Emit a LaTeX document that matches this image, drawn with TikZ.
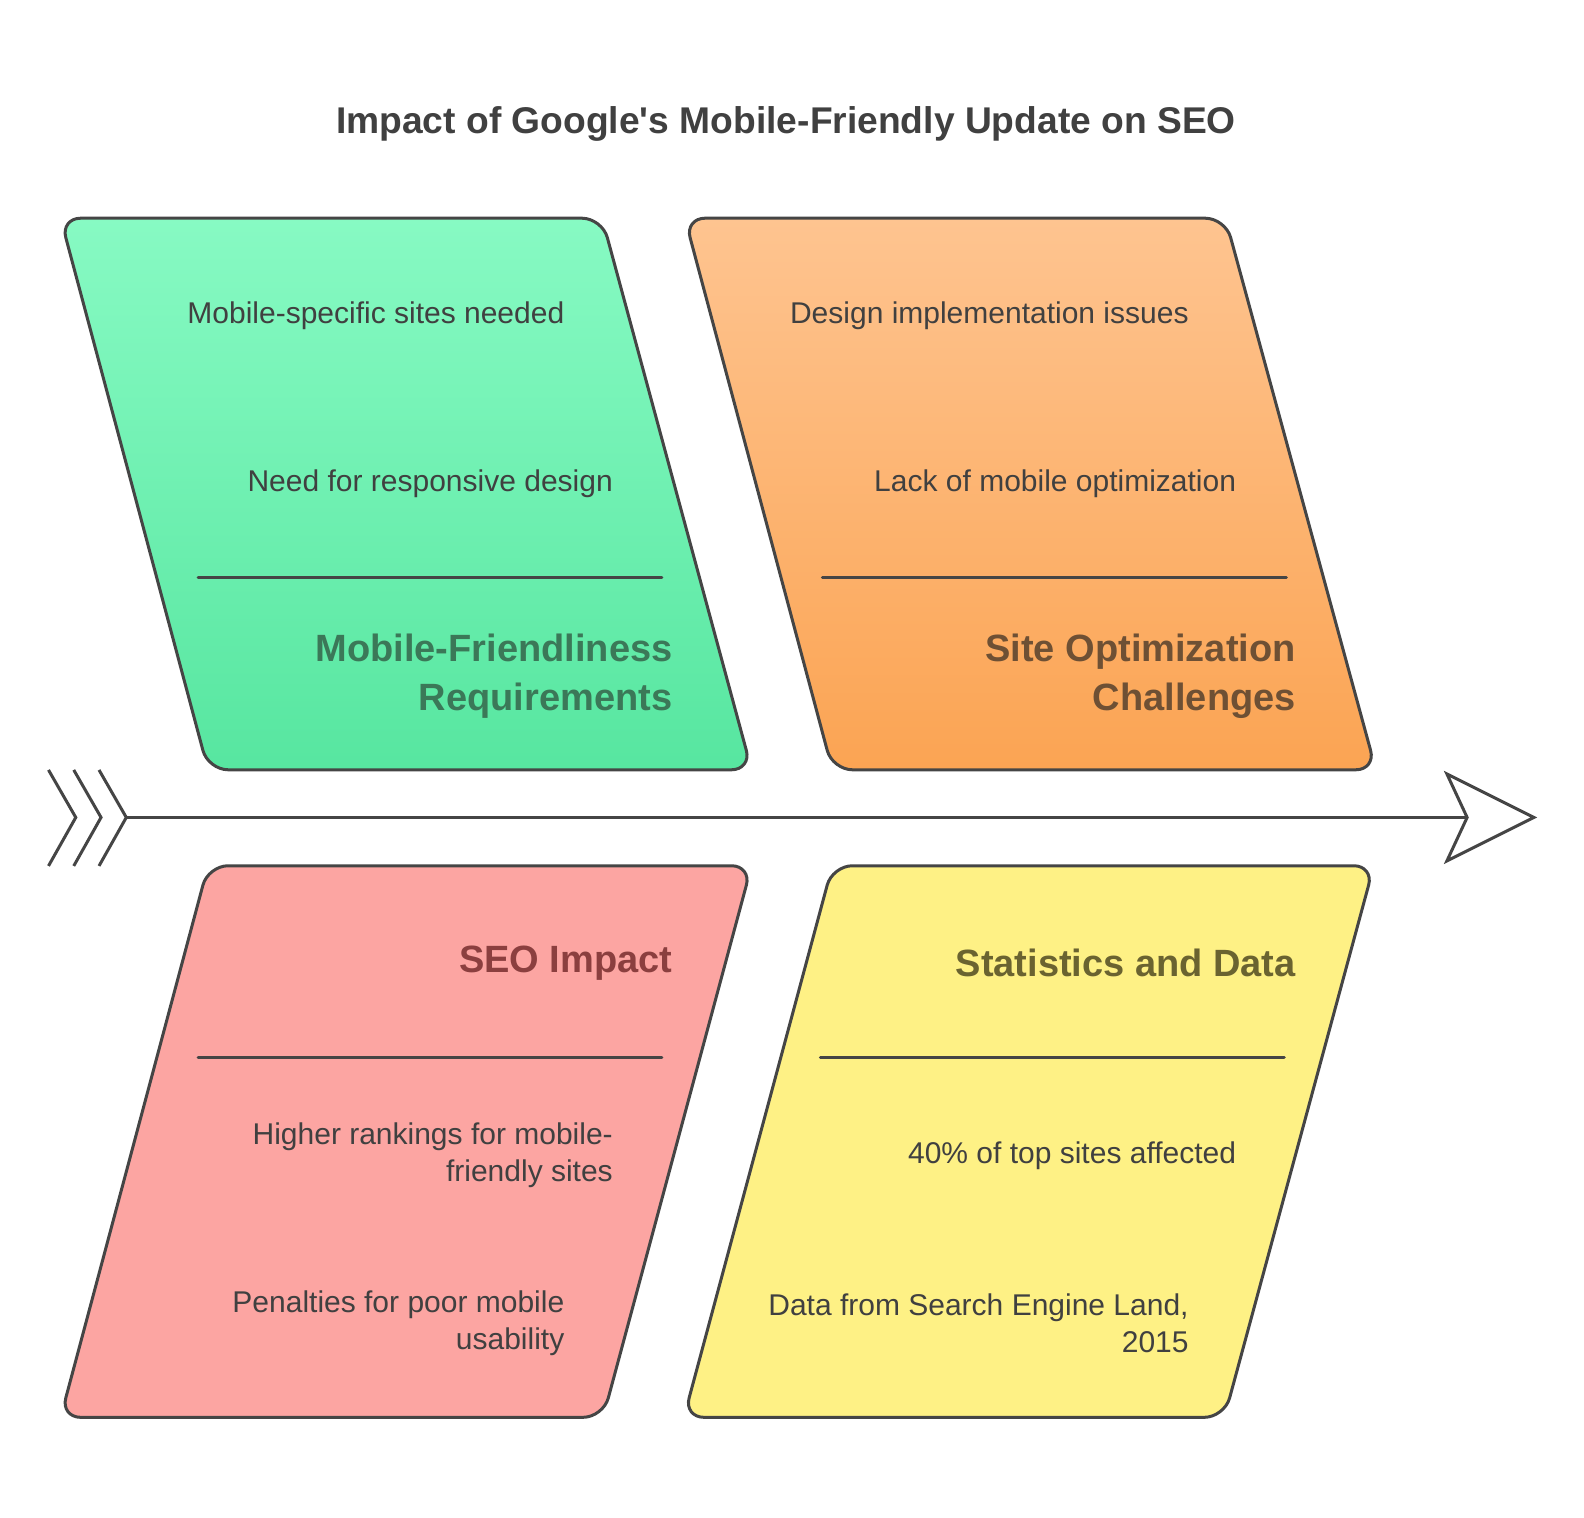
\documentclass[tikz,border=0pt]{standalone}
\usepackage{fontspec}
\setmainfont{Liberation Sans}
\usetikzlibrary{calc}
\definecolor{strokec}{HTML}{454545}
\definecolor{bodyc}{HTML}{404040}
\definecolor{greenT}{HTML}{87FAC3}
\definecolor{greenB}{HTML}{57E6A0}
\definecolor{orangeT}{HTML}{FEC490}
\definecolor{orangeB}{HTML}{FBA453}
\definecolor{pinkF}{HTML}{FCA5A2}
\definecolor{yellowF}{HTML}{FEF185}
\definecolor{greenH}{HTML}{3B7858}
\definecolor{orangeH}{HTML}{6E5034}
\definecolor{pinkH}{HTML}{8B3F3F}
\definecolor{yellowH}{HTML}{6A6330}
\tikzset{
  panel/.style={draw=strokec, line width=1.5pt, rounded corners=10pt, line join=round},
  sepline/.style={draw=strokec, line width=1.5pt, line cap=round},
  spineline/.style={draw=strokec, line width=1.5pt},
  itemtext/.style={anchor=east, inner sep=0pt, text=bodyc, align=right, font=\fontsize{15pt}{18.5pt}\selectfont},
  headtext/.style={anchor=east, inner sep=0pt, align=right, font=\fontsize{19pt}{24.5pt}\selectfont\bfseries},
  titletext/.style={inner sep=0pt, text=bodyc, font=\fontsize{18.6pt}{22pt}\selectfont\bfseries}
}
\begin{document}
\begin{tikzpicture}[x=0.5pt,y=-0.5pt]
\useasboundingbox (0,0) rectangle (1584,1517);
\fill[white] (0,0) rectangle (1584,1517);
\begin{scope}[scale=1.0102]
% title
\node[titletext] (title) at (778,123) {Impact of Google\textquotesingle s Mobile-Friendly Update on SEO};

% panels
\path[panel, top color=greenT, bottom color=greenB]
  (60,216) -- (596,216) -- (744,762) -- (206,762) -- cycle;
\path[panel, top color=orangeT, bottom color=orangeB]
  (678,216) -- (1213,216) -- (1362,762) -- (824,762) -- cycle;
\path[panel, fill=pinkF]
  (206,857) -- (744,857) -- (597,1403) -- (60,1403) -- cycle;
\path[panel, fill=yellowF]
  (824,857) -- (1360,857) -- (1212,1403) -- (677,1403) -- cycle;

% separators
\coordinate (g1) at (196,572); \coordinate (g2) at (655,572);
\coordinate (o1) at (814,572); \coordinate (o2) at (1273,572);
\coordinate (p1) at (196,1047); \coordinate (p2) at (655,1047);
\coordinate (y1) at (812,1047); \coordinate (y2) at (1271,1047);
\draw[sepline] (g1) -- (g2);
\draw[sepline] (o1) -- (o2);
\draw[sepline] (p1) -- (p2);
\draw[sepline] (y1) -- (y2);

% green texts
\node[itemtext] (g-a) at (559,313) {Mobile-specific sites needed};
\node[itemtext] (g-b) at (607,479) {Need for responsive design};
\node[headtext, text=greenH] (g-h) at (666,669) {Mobile-Friendliness\\Requirements};

% orange texts
\node[itemtext] (o-a) at (1177,313) {Design implementation issues};
\node[itemtext] (o-b) at (1224,479) {Lack of mobile optimization};
\node[headtext, text=orangeH] (o-h) at (1283,669) {Site Optimization\\Challenges};

% pink texts
\node[headtext, text=pinkH] (p-h) at (666,953) {SEO Impact};
\node[itemtext] (p-a) at (607,1144) {Higher rankings for mobile-\\friendly sites};
\node[itemtext] (p-b) at (559,1310) {Penalties for poor mobile\\usability};

% yellow texts
\node[headtext, text=yellowH] (y-h) at (1283,953) {Statistics and Data};
\node[itemtext] (y-a) at (1224,1144) {40\% of top sites affected};
\node[itemtext] (y-b) at (1177,1310) {Data from Search Engine Land,\\2015};

% spine
\coordinate (tailpt) at (125,809);
\coordinate (notch) at (1452,809);
\coordinate (tip) at (1518,809);
\coordinate (hu) at (1432,766);
\coordinate (hd) at (1432,852);
\draw[spineline] (tailpt) -- (notch);
\draw[spineline, line join=miter] (notch) -- (hu) -- (tip) -- (hd) -- cycle;
\foreach \dx [count=\i] in {0,25,50} {
  \coordinate (c\i t) at (48+\dx,762);
  \coordinate (c\i m) at (75+\dx,809);
  \coordinate (c\i b) at (48+\dx,857);
  \draw[spineline] (c\i t) -- (c\i m) -- (c\i b);
}
\end{scope}
\end{tikzpicture}
\end{document}
